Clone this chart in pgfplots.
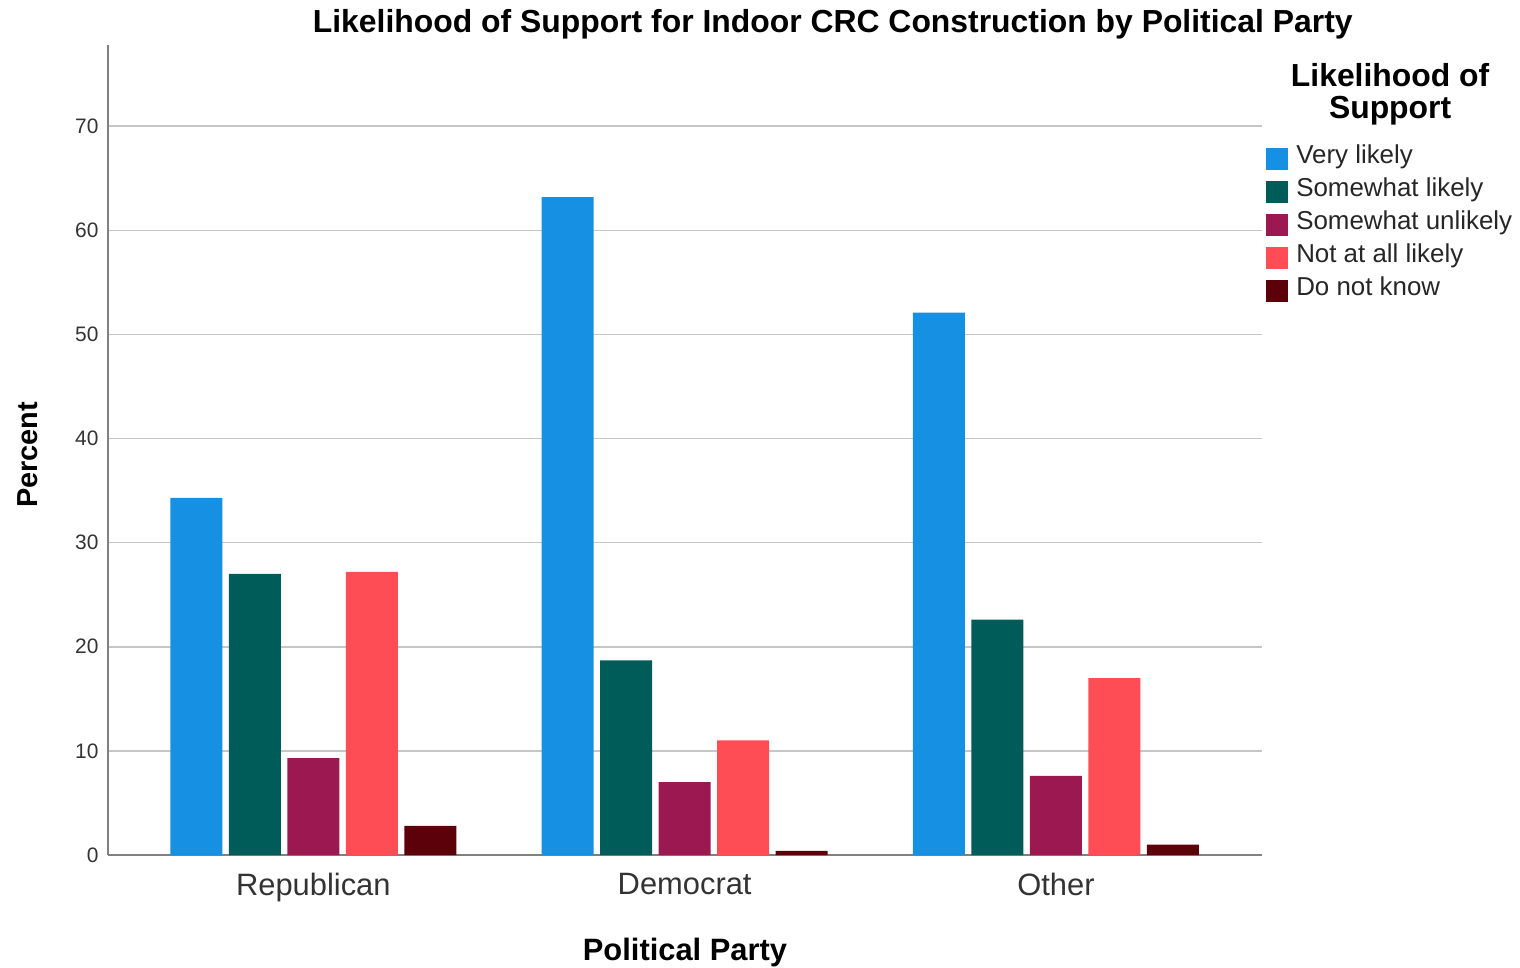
\documentclass[border=0pt]{standalone}
\usepackage{fontspec}
\setmainfont{Liberation Sans}
\usepackage{pgfplots}
\pgfplotsset{compat=1.18}
\definecolor{cVL}{HTML}{1590E3}
\definecolor{cSL}{HTML}{005C59}
\definecolor{cSU}{HTML}{9C1850}
\definecolor{cNA}{HTML}{FF4D56}
\definecolor{cDK}{HTML}{5C0009}
\begin{document}
\begin{tikzpicture}
\useasboundingbox (0,0) rectangle (1520bp,968bp);
\begin{axis}[
  at={(108bp,113bp)}, anchor=south west,
  scale only axis, width=1154bp, height=810bp,
  clip=false,
  ybar=6.5bp, bar width=52bp,
  xmin=-0.553, xmax=2.555, ymin=0, ymax=77.8,
  xtick={0,1,2}, xticklabels={Republican,Democrat,Other},
  ytick={0,10,...,70},
  major tick length=0pt,
  axis x line*=bottom, axis y line*=left,
  axis line style={-, draw=gray, line width=1.5bp},
  ymajorgrids, grid style={draw=gray!45, line width=1.5bp},
  /pgf/number format/assume math mode=true,
  yticklabel style={font=\fontsize{21}{21}\selectfont, text=black!80, xshift=-6bp},
  xticklabel style={font=\fontsize{31}{31}\selectfont, text=black!80, yshift=-15bp},
  ylabel={Percent},
  ylabel style={font=\fontsize{29}{29}\selectfont\bfseries, at={(axis description cs:-0.0693,0.494)}, anchor=center, rotate=0},
  xlabel={Political Party},
  xlabel style={font=\fontsize{31}{31}\selectfont\bfseries, at={(axis description cs:0.5,-0.12)}, anchor=center},
  legend style={draw=none, fill=none, at={(axis description cs:1.0035,0.8797)}, anchor=north west,
    font=\fontsize{26}{26}\selectfont, inner sep=0pt, row sep=0pt,
    nodes={inner sep=0pt, text height=21bp, text depth=12bp, text=black!85},
    /tikz/every odd column/.append style={column sep=8bp}},
  legend cell align=left,
  legend image code/.code={\fill[#1] (0bp,-11bp) rectangle (22bp,11bp);},
]
\addplot[fill=cVL, draw=none] coordinates {(0,34.3) (1,63.2) (2,52.1)};
\addplot[fill=cSL, draw=none] coordinates {(0,27.0) (1,18.7) (2,22.6)};
\addplot[fill=cSU, draw=none] coordinates {(0,9.3) (1,7.0) (2,7.6)};
\addplot[fill=cNA, draw=none] coordinates {(0,27.2) (1,11.0) (2,17.0)};
\addplot[fill=cDK, draw=none] coordinates {(0,2.8) (1,0.4) (2,1.0)};
\legend{Very likely, Somewhat likely, Somewhat unlikely, Not at all likely, Do not know}
\node[font=\fontsize{32}{32}\selectfont\bfseries, anchor=center] at (axis description cs:0.628,1.026) {Likelihood of Support for Indoor CRC Construction by Political Party};
\node[font=\fontsize{32}{32}\selectfont\bfseries, align=center, anchor=center] at (axis description cs:1.111,0.9395) {Likelihood of\\Support};
\end{axis}
\end{tikzpicture}
\end{document}
